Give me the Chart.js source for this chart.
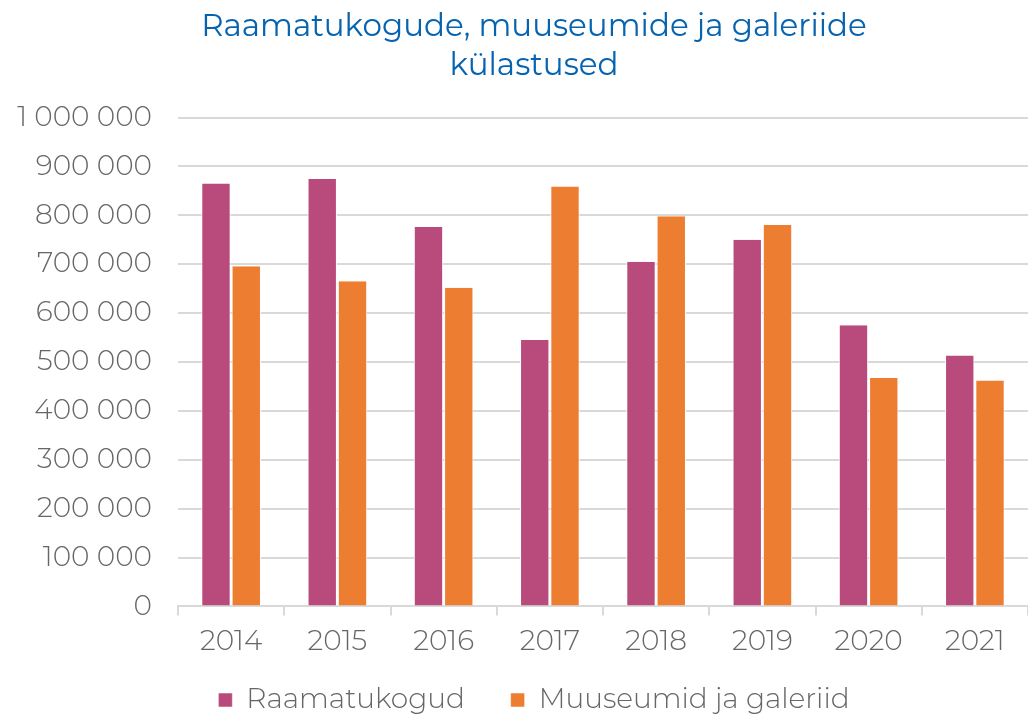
<!DOCTYPE html>
<html>
<head>
<meta charset="utf-8">
<script src="https://cdn.jsdelivr.net/npm/chart.js@4/dist/chart.umd.min.js"></script>
<style>
  html, body { margin: 0; padding: 0; background: #fff; }
  #wrap { width: 1028px; height: 714px; }
</style>
</head>
<body>
<div id="wrap"><canvas id="grafico1"></canvas></div>
<script>
const aastad = ['2014', '2015', '2016', '2017', '2018', '2019', '2020', '2021'];
const raamatukogud = [865000, 874000, 776000, 545000, 705000, 750000, 575000, 513000];
const muuseumid = [696000, 665000, 652000, 859000, 798000, 780000, 467000, 462000];
const pealkiri = ['Raamatukogude, muuseumide ja galeriide', 'külastused'];

const font = 'Montserrat, "Noto Sans", "DejaVu Sans", sans-serif';

// tuhandete eraldaja tühikuga: 1 000 000
function tuhanded(v) {
  return String(v).replace(/\B(?=(\d{3})+(?!\d))/g, ' ');
}

// y-telje sildid ulatuvad vasakult üle telje kasti, et neid ei lõigataks
const yTeljeLaius = {
  id: 'yTeljeLaius',
  afterLayout(chart) {
    chart.scales.y.left = 0;
  }
};

const ctx = document.getElementById('grafico1');

new Chart(ctx, {
  type: 'bar',
  data: {
    labels: aastad,
    datasets: [{
      label: 'Raamatukogud',
      data: raamatukogud,
      backgroundColor: '#B94B7C',
      borderColor: '#ffffff',
      borderWidth: { top: 0, left: 1, right: 1, bottom: 0 }
    }, {
      label: 'Muuseumid ja galeriid',
      data: muuseumid,
      backgroundColor: '#ED7D31',
      borderColor: '#ffffff',
      borderWidth: { top: 0, left: 1, right: 1, bottom: 0 }
    }]
  },
  plugins: [yTeljeLaius],
  options: {
    responsive: true,
    maintainAspectRatio: false,
    animation: false,
    layout: { padding: { left: 40, right: 0, top: 0, bottom: -10 } },
    datasets: {
      bar: { categoryPercentage: 0.57, barPercentage: 0.97 }
    },
    plugins: {
      title: {
        display: true,
        text: pealkiri,
        color: '#0563B0',
        font: { family: font, size: 31, weight: 'normal', lineHeight: 1.25 },
        padding: { top: 8, bottom: 32 }
      },
      legend: {
        position: 'bottom',
        labels: {
          color: '#666666',
          font: { family: font, size: 28, weight: 300 },
          boxWidth: 14,
          boxHeight: 14,
          padding: 17,
          // vahe legendi kirjete vahel
          generateLabels: chart => {
            const items = Chart.defaults.plugins.legend.labels.generateLabels(chart);
            items[0].text += '    ';
            return items;
          }
        }
      },
      tooltip: { enabled: false }
    },
    scales: {
      x: {
        grid: {
          display: true,
          offset: true,
          drawOnChartArea: false,
          drawTicks: true,
          tickLength: 9,
          color: '#d9d9d9',
          lineWidth: 2
        },
        border: { display: true, color: '#d9d9d9', width: 2 },
        ticks: {
          color: '#666666',
          font: { family: font, size: 28, weight: 300 },
          padding: 10
        }
      },
      y: {
        min: 0,
        max: 1000000,
        afterFit: scale => { scale.width = 138; },
        ticks: {
          stepSize: 100000,
          color: '#666666',
          font: { family: font, size: 28, weight: 300 },
          padding: 26,
          callback: v => tuhanded(v)
        },
        grid: {
          color: '#d9d9d9',
          lineWidth: 2,
          drawTicks: false
        },
        border: { display: false }
      }
    }
  }
});
</script>
</body>
</html>
